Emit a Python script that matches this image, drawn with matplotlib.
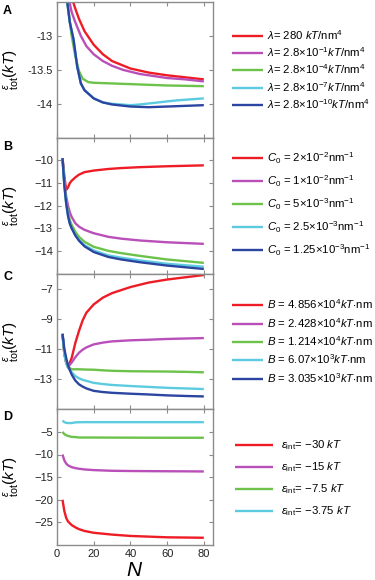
import matplotlib
matplotlib.use("Agg")
import matplotlib.pyplot as plt

plt.rcParams['font.family'] = ['Liberation Sans', 'DejaVu Sans']
plt.rcParams['mathtext.fontset'] = 'custom'
plt.rcParams['mathtext.rm'] = 'Liberation Sans'
plt.rcParams['mathtext.it'] = 'Liberation Sans:italic'
plt.rcParams['mathtext.bf'] = 'Liberation Sans:bold'
plt.rcParams['mathtext.sf'] = 'Liberation Sans'

# ---------------- data ----------------
colors5 = ['#ee1c25', '#b94fb9', '#6cc24a', '#5ccbe0', '#2b45a0']

# Panel A
a_red_n = [2, 4, 6, 8, 10, 12, 15, 20, 25, 30, 40, 50, 60, 70, 80]
a_red_y = [-11.0, -11.8, -12.2, -12.43, -12.6, -12.75, -12.93, -13.13, -13.27, -13.37, -13.48, -13.54, -13.58, -13.61, -13.64]
a_mag_n = [2, 4, 6, 8, 10, 13, 16, 20, 25, 30, 36, 45, 60, 70, 80]
a_mag_y = [-11.2, -11.9, -12.4, -12.65, -12.8, -13.0, -13.15, -13.27, -13.37, -13.44, -13.5, -13.56, -13.62, -13.64, -13.67]
a_grn_n = [2, 4, 5.6, 8, 10, 12, 14, 17, 20, 30, 40, 60, 80]
a_grn_y = [-11.5, -12.2, -12.5, -13.0, -13.3, -13.52, -13.63, -13.68, -13.69, -13.70, -13.71, -13.73, -13.74]
a_cyn_n = [2, 4, 5.6, 7, 9, 11, 13, 15, 20, 25, 30, 40, 45, 55, 65, 80]
a_cyn_y = [-11.5, -12.2, -12.5, -12.8, -13.05, -13.45, -13.7, -13.8, -13.92, -13.98, -14.0, -14.02, -14.01, -13.98, -13.95, -13.92]
a_blu_n = [2, 4, 5.6, 7, 9, 11, 13, 15, 20, 25, 30, 40, 50, 60, 70, 80]
a_blu_y = [-11.5, -12.2, -12.5, -12.8, -13.05, -13.45, -13.7, -13.8, -13.92, -13.98, -14.01, -14.04, -14.05, -14.04, -14.03, -14.02]

# Panel B
b_n = [3, 4, 5, 6, 7, 8, 10, 12, 15, 20, 28, 35, 45, 60, 80]
b_red_y = [-9.9, -10.7, -11.3, -11.2, -11.0, -10.9, -10.75, -10.63, -10.52, -10.45, -10.38, -10.34, -10.3, -10.26, -10.22]
b_mag_y = [-9.9, -10.9, -11.6, -12.0, -12.3, -12.5, -12.78, -12.93, -13.07, -13.22, -13.38, -13.46, -13.54, -13.62, -13.69]
b_grn_y = [-9.9, -11.0, -11.8, -12.3, -12.65, -12.85, -13.16, -13.38, -13.6, -13.82, -14.0, -14.1, -14.22, -14.38, -14.53]
b_cyn_y = [-9.9, -11.1, -11.9, -12.45, -12.8, -13.0, -13.3, -13.52, -13.75, -13.98, -14.2, -14.3, -14.42, -14.57, -14.7]
b_blu_y = [-9.9, -11.1, -11.9, -12.45, -12.8, -13.0, -13.32, -13.55, -13.8, -14.05, -14.27, -14.38, -14.5, -14.65, -14.8]

# Panel C
c_n = [3, 4, 5, 6, 8, 10, 12, 14, 16, 20, 25, 30, 40, 50, 60, 70, 80]
c_red_y = [-10.0, -11.3, -11.9, -12.2, -11.6, -10.6, -9.8, -9.1, -8.6, -8.05, -7.6, -7.3, -6.9, -6.6, -6.4, -6.25, -6.1]
c_mag_y = [-10.0, -11.3, -11.9, -12.2, -11.9, -11.55, -11.25, -11.05, -10.9, -10.7, -10.58, -10.5, -10.43, -10.39, -10.34, -10.31, -10.28]
c_grn_y = [-10.0, -11.3, -11.9, -12.2, -12.35, -12.35, -12.35, -12.36, -12.37, -12.38, -12.42, -12.45, -12.48, -12.49, -12.5, -12.52, -12.55]
c_cyn_y = [-10.0, -11.3, -11.9, -12.25, -12.55, -12.8, -12.95, -13.05, -13.12, -13.25, -13.33, -13.39, -13.46, -13.52, -13.58, -13.62, -13.66]
c_blu_y = [-10.0, -11.0, -11.6, -12.1, -12.7, -13.1, -13.35, -13.5, -13.62, -13.78, -13.86, -13.91, -13.97, -14.02, -14.08, -14.12, -14.15]

# Panel D
d_n = [3, 4, 5, 6, 8, 10, 12, 15, 20, 30, 40, 50, 60, 70, 80]
d_red_y = [-20.0, -22.5, -24.0, -24.8, -25.6, -26.1, -26.5, -26.9, -27.3, -27.7, -28.0, -28.15, -28.3, -28.35, -28.4]
d_mag_y = [-10.0, -11.3, -12.0, -12.4, -12.8, -13.0, -13.15, -13.3, -13.45, -13.6, -13.65, -13.68, -13.7, -13.72, -13.75]
d_grn_y = [-5.0, -5.5, -5.75, -5.9, -6.1, -6.15, -6.25, -6.25, -6.25, -6.27, -6.28, -6.29, -6.3, -6.3, -6.3]
d_cyn_y = [-2.5, -2.85, -3.0, -3.05, -3.05, -2.9, -2.87, -2.85, -2.85, -2.85, -2.85, -2.85, -2.85, -2.85, -2.85]

labels_a = [r'$\lambda$= 280 $kT$/nm$^4$',
            r'$\lambda$= 2.8$\times$10$^{-1}$$kT$/nm$^4$',
            r'$\lambda$= 2.8$\times$10$^{-4}$$kT$/nm$^4$',
            r'$\lambda$= 2.8$\times$10$^{-7}$$kT$/nm$^4$',
            r'$\lambda$= 2.8$\times$10$^{-10}$$kT$/nm$^4$']
labels_b = [r'$C_0$ = 2$\times$10$^{-2}$nm$^{-1}$',
            r'$C_0$ = 1$\times$10$^{-2}$nm$^{-1}$',
            r'$C_0$ = 5$\times$10$^{-3}$nm$^{-1}$',
            r'$C_0$ = 2.5$\times$10$^{-3}$nm$^{-1}$',
            r'$C_0$ = 1.25$\times$10$^{-3}$nm$^{-1}$']
labels_c = [r'$B$ = 4.856$\times$10$^4$$kT$$\cdot$nm',
            r'$B$ = 2.428$\times$10$^4$$kT$$\cdot$nm',
            r'$B$ = 1.214$\times$10$^4$$kT$$\cdot$nm',
            r'$B$ = 6.07$\times$10$^3$$kT$$\cdot$nm',
            r'$B$ = 3.035$\times$10$^3$$kT$$\cdot$nm']
labels_d = [r'$\varepsilon_{\rm int}$= $-$30 $kT$',
            r'$\varepsilon_{\rm int}$= $-$15 $kT$',
            r'$\varepsilon_{\rm int}$= $-$7.5 $kT$',
            r'$\varepsilon_{\rm int}$= $-$3.75 $kT$']

x_ticks = [0, 20, 40, 60, 80]
yticks_a = [-13, -13.5, -14]
yticks_b = [-10, -11, -12, -13, -14]
yticks_c = [-7, -9, -11, -13]
yticks_d = [-5, -10, -15, -20, -25]

# ---------------- figure ----------------
W, H = 375, 580
fig = plt.figure(figsize=(W / 100, H / 100), dpi=100)

left_px, right_px = 57, 213
top_px, bot_px = 2, 545
ph = (bot_px - top_px) / 4.0
axes = []
for i in range(4):
    t = top_px + i * ph
    ax = fig.add_axes([left_px / W, 1 - (t + ph) / H, (right_px - left_px) / W, ph / H])
    axes.append(ax)

panels = [
    ([(a_red_n, a_red_y), (a_mag_n, a_mag_y), (a_grn_n, a_grn_y), (a_cyn_n, a_cyn_y), (a_blu_n, a_blu_y)],
     colors5, labels_a, (-14.5, -12.5), yticks_a, ['-13', '-13.5', '-14'], 0.3, 2.7, 0.4),
    ([(b_n, b_red_y), (b_n, b_mag_y), (b_n, b_grn_y), (b_n, b_cyn_y), (b_n, b_blu_y)],
     colors5, labels_b, (-15, -9), yticks_b, None, 0.65, 2.7, 0.4),
    ([(c_n, c_red_y), (c_n, c_mag_y), (c_n, c_grn_y), (c_n, c_cyn_y), (c_n, c_blu_y)],
     colors5, labels_c, (-15, -6), yticks_c, None, 0.4, 2.7, 0.4),
    ([(d_n, d_red_y), (d_n, d_mag_y), (d_n, d_grn_y), (d_n, d_cyn_y)],
     colors5[:4], labels_d, (-30, 0), yticks_d, None, 0.72, 3.3, 0.7),
]
legend_y = [69.5, 204, 341, 478.5]
legend_x = [232, 232, 232, 235]
panel_letters = ['A', 'B', 'C', 'D']
letter_y = [11, 147, 277, 417]

spine_col = '#8c8c8c'
for i, (ax, (series, cols, labs, ylim, yt, ytl, lsp, hl, htp)) in enumerate(zip(axes, panels)):
    handles = []
    for (xn, yv), c, lab in zip(series, cols, labs):
        h, = ax.plot(xn, yv, color=c, lw=1.7, label=lab, solid_capstyle='butt')
        handles.append(h)
    ax.set_xlim(0, 85)
    ax.set_ylim(*ylim)
    ax.set_xticks(x_ticks)
    ax.set_yticks(yt)
    if ytl is not None:
        ax.set_yticklabels(ytl)
    for s in ax.spines.values():
        s.set_color(spine_col)
        s.set_linewidth(1.0)
    ax.tick_params(direction='in', length=3, width=0.8, color=spine_col,
                   top=True, right=True, labelsize=8, labelcolor='#222222', pad=3)
    if i < 3:
        ax.tick_params(labelbottom=False)
    else:
        ax.set_xlabel('$N$', fontsize=15, labelpad=1)
    ax.set_ylabel(r'$^{\varepsilon}_{\rm tot}(kT)$', fontsize=11)
    ax.yaxis.set_label_coords(-0.225, 0.5)
    fig.legend(handles=handles, loc='center left',
               bbox_to_anchor=(legend_x[i] / W, 1 - legend_y[i] / H),
               frameon=False, fontsize=8.2, handlelength=hl, handletextpad=htp,
               labelspacing=lsp, borderpad=0, borderaxespad=0)
    fig.text(3 / W, 1 - letter_y[i] / H, panel_letters[i], fontsize=9,
             fontweight='bold', va='center', ha='left')

fig.savefig('out.png', dpi=100)
